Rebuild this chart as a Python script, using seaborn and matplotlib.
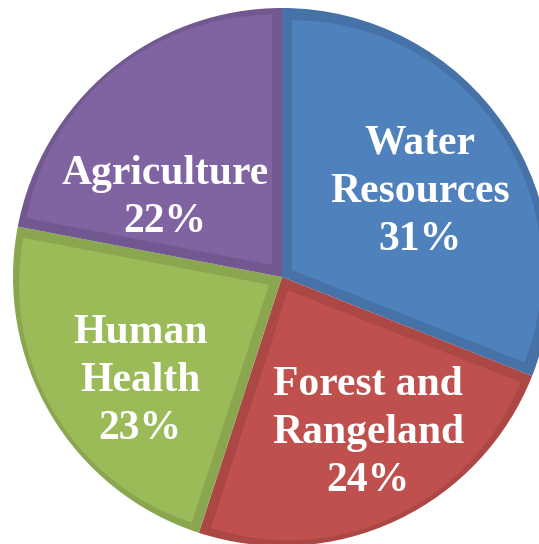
import matplotlib
matplotlib.use("Agg")
import matplotlib.pyplot as plt
import numpy as np
import seaborn as sns

categories = ["Water\nResources", "Forest and\nRangeland", "Human\nHealth", "Agriculture"]
shares = [31, 24, 23, 22]
face_colors = ["#4F81BD", "#C0504D", "#9BBB59", "#8064A2"]
edge_colors = ["#4672A8", "#AB4744", "#8AA74F", "#725890"]
label_pos = [(420, 352), (368, 111), (140, 163), (165, 346)]

sns.set_theme(style="white")
plt.rcParams['font.family'] = ['Liberation Serif', 'DejaVu Serif']

fig = plt.figure(figsize=(5.39, 5.44), dpi=100)
ax = fig.add_axes([0, 0, 1, 1])

R = 269
CENTER = (282, 267)
BORDER = 10
R_IN = R - BORDER - 9

# full pie in the darker border colours
ax.pie(shares, colors=edge_colors, startangle=90, counterclock=False,
       radius=R, center=CENTER, frame=True, wedgeprops=dict(linewidth=0))

# lighter inner faces, inset from the radial edges by shifting along the bisector
fr = np.array(shares, dtype=float) / np.sum(shares)
shift = BORDER / np.sin(np.pi * fr)
ax.pie(shares, colors=face_colors, startangle=90, counterclock=False,
       radius=R_IN, center=CENTER, explode=shift, frame=True,
       wedgeprops=dict(linewidth=0))

ax.set_xlim(0, 539)
ax.set_ylim(0, 544)
ax.set_aspect("auto")
ax.axis("off")

for cat, s, (x, y) in zip(categories, shares, label_pos):
    ax.text(x, y, f"{cat}\n{s}%", ha="center", va="center", multialignment="center",
            color="white", fontsize=30, fontweight="bold", linespacing=1.35)

fig.savefig("out.png", dpi=100)
